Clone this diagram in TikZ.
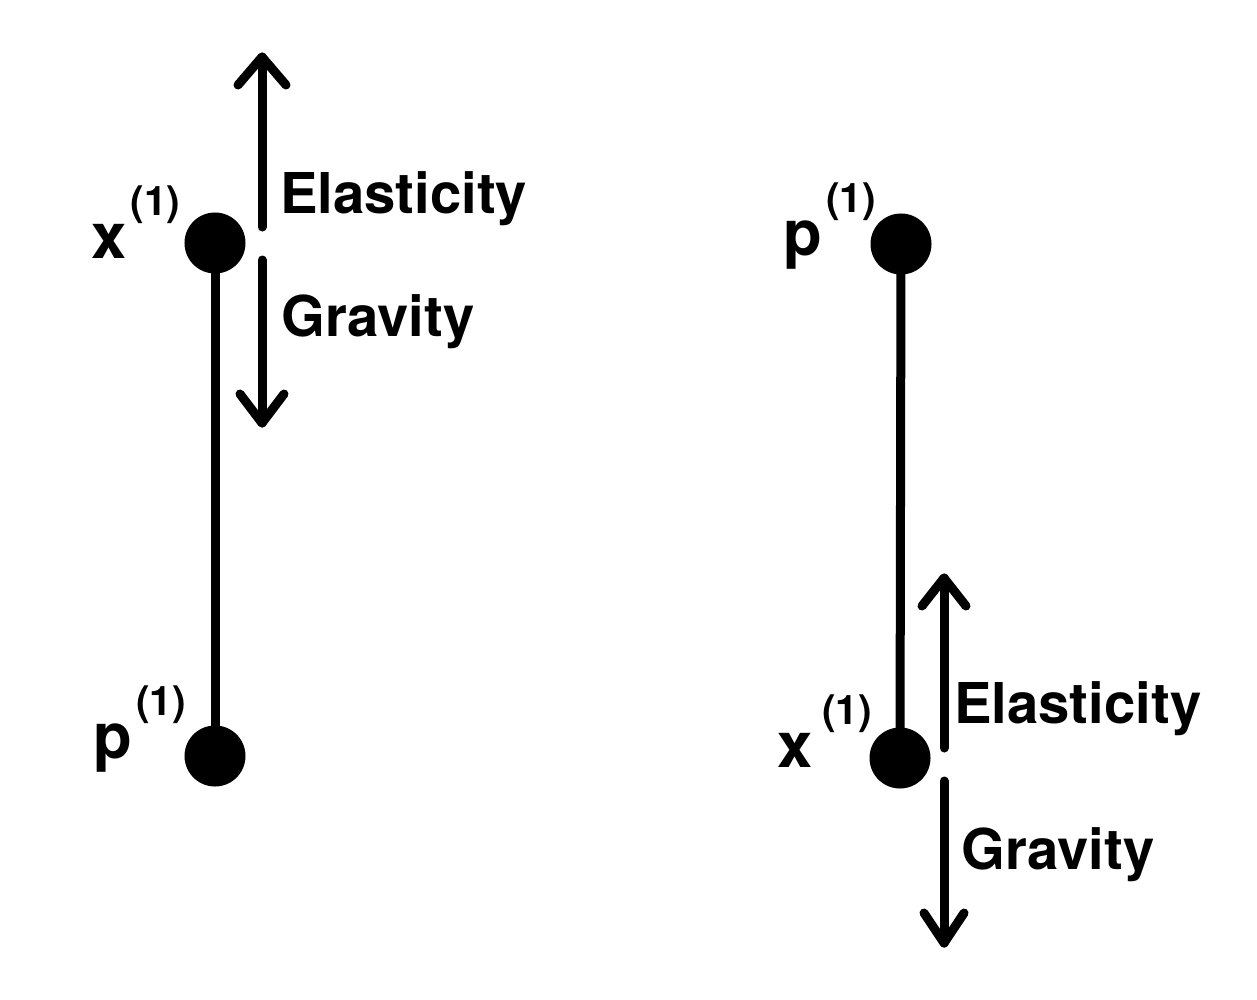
\documentclass[tikz,border=0pt]{standalone}
\usepackage{fontspec}
\setmainfont{TeX Gyre Heros}
\usetikzlibrary{calc}
\begin{document}
\begin{tikzpicture}[x=0.025cm,y=-0.025cm,
  mass/.style={circle,fill=black,inner sep=0pt,minimum size=61*0.7113pt},
  rod/.style={line width=9*0.7113pt},
  force/.style={line width=9*0.7113pt,line cap=round,line join=round},
  lbl/.style={inner sep=0pt,anchor=base west,font=\bfseries\fontsize{45}{45}\selectfont},
  flbl/.style={inner sep=0pt,anchor=base west,font=\bfseries\fontsize{40}{40}\selectfont}]
\useasboundingbox (0,0) rectangle (1257,1000);
\newcommand{\supone}[1][3pt]{\hspace{#1}\raisebox{30pt}{\fontsize{29}{29}\selectfont(1)}}
% left system
\node[mass] (xL) at (215,243) {};
\node[mass] (pL) at (215,756) {};
\draw[rod] (xL.center) -- (pL.center);
\node[lbl] (xLl) at (91,258) {x\supone};
\node[lbl] (pLl) at (93,758) {p\supone};
\coordinate (eLs) at (262,227);
\coordinate (eLt) at (262,57);
\coordinate (gLs) at (262,260);
\coordinate (gLt) at (262,423);
\draw[force] (eLs) -- (eLt);
\draw[force] ($(eLt)+(-24,28)$) -- (eLt) -- ($(eLt)+(24,28)$);
\draw[force] (gLs) -- (gLt);
\draw[force] ($(gLt)+(-22,-29)$) -- (gLt) -- ($(gLt)+(22,-29)$);
\node[flbl] (eLl) at (280,213) {Elasticity};
\node[flbl] (gLl) at (281,336) {Gravity};
% right system
\node[mass] (pR) at (901,244) {};
\node[mass] (xR) at (900,758) {};
\draw[rod] (pR.center) -- (xR.center);
\node[lbl] (pRl) at (783,255) {p\supone};
\node[lbl] (xRl) at (777,767) {x\supone[7pt]};
\coordinate (eRs) at (944,748);
\coordinate (eRt) at (944,578);
\coordinate (gRs) at (944,781);
\coordinate (gRt) at (944,943);
\draw[force] (eRs) -- (eRt);
\draw[force] ($(eRt)+(-22,28)$) -- (eRt) -- ($(eRt)+(22,28)$);
\draw[force] (gRs) -- (gRt);
\draw[force] ($(gRt)+(-20,-30)$) -- (gRt) -- ($(gRt)+(20,-30)$);
\node[flbl] (eRl) at (954,723) {Elasticity};
\node[flbl] (gRl) at (961,869) {Gravity};
\end{tikzpicture}
\end{document}
